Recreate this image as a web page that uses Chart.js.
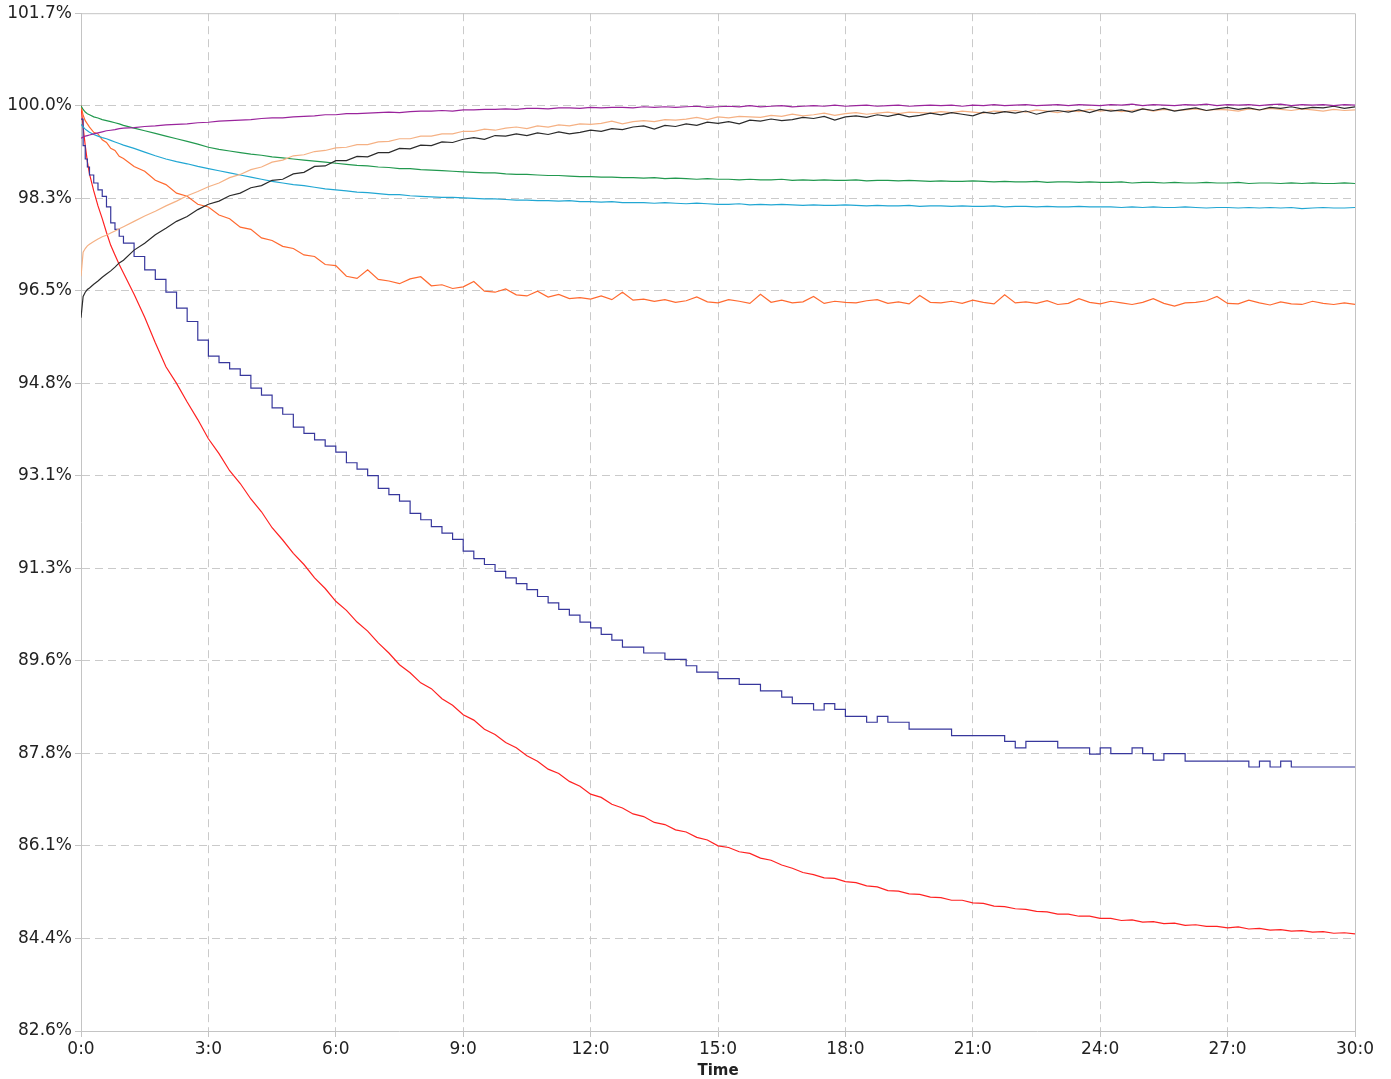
<!DOCTYPE html>
<html>
<head>
<meta charset="UTF-8">
<title>Retention</title>
<script src="https://cdn.jsdelivr.net/npm/chart.js@4.4.1/dist/chart.umd.min.js"></script>
<style>
	body { margin: 0; background: #fff; }
	#wrap { width: 1391px; height: 1079px; }
</style>
<script>
	// minutes
	const times = [
		0, 0.05, 0.1, 0.15, 0.2, 0.3, 0.4, 0.5, 0.6, 0.7, 0.8, 0.9, 1,
		1.25, 1.5, 1.75, 2,  2.25, 2.5, 2.75, 3,  3.25, 3.5, 3.75, 4,  4.25, 4.5, 4.75, 5,
		5.25, 5.5, 5.75, 6,  6.25, 6.5, 6.75, 7,  7.25, 7.5, 7.75, 8,  8.25, 8.5, 8.75, 9,
		9.25, 9.5, 9.75, 10,  10.25, 10.5, 10.75, 11,  11.25, 11.5, 11.75, 12,  12.25, 12.5, 12.75, 13,
		13.25, 13.5, 13.75, 14,  14.25, 14.5, 14.75, 15,  15.25, 15.5, 15.75, 16,  16.25, 16.5, 16.75, 17,
		17.25, 17.5, 17.75, 18,  18.25, 18.5, 18.75, 19,  19.25, 19.5, 19.75, 20,  20.25, 20.5, 20.75, 21,
		21.25, 21.5, 21.75, 22,  22.25, 22.5, 22.75, 23,  23.25, 23.5, 23.75, 24,  24.25, 24.5, 24.75, 25,
		25.25, 25.5, 25.75, 26,  26.25, 26.5, 26.75, 27,  27.25, 27.5, 27.75, 28,  28.25, 28.5, 28.75, 29,
		29.25, 29.5, 29.75, 30
	];

	const purple = [
		99.39, 99.41, 99.43, 99.44, 99.45, 99.47, 99.49, 99.51, 99.53, 99.54, 99.55, 99.57, 99.58,
		99.59, 99.61, 99.62, 99.64,  99.65, 99.66, 99.68, 99.69,  99.71, 99.72, 99.73, 99.74,  99.76, 99.77, 99.77, 99.79,
		99.8, 99.81, 99.83, 99.83,  99.85, 99.85, 99.86, 99.87,  99.88, 99.87, 99.89, 99.9,  99.9, 99.91, 99.9, 99.92,
		99.92, 99.93, 99.93, 99.94,  99.93, 99.95, 99.95, 99.94,  99.96, 99.96, 99.95, 99.97,  99.96, 99.97, 99.97, 99.96,
		99.98, 99.97, 99.98, 99.97,  99.98, 99.99, 99.97, 99.98,  99.99, 99.98, 100.0, 99.98,  99.99, 100.0, 99.98, 99.99,
		100.0, 99.99, 100.01, 99.99,  100.0, 100.01, 99.99, 100.0,  100.01, 99.99, 100.0, 100.01,  100.0, 100.01, 99.99, 100.01,
		100.0, 100.02, 100.0, 100.01,  100.02, 100.0, 100.01, 100.02,  100.0, 100.02, 100.01, 100.0,  100.02, 100.01, 100.03, 100.0,
		100.02, 100.01, 100.0, 100.02,  100.01, 100.03, 100.0, 100.02,  100.01, 100.02, 100.0, 100.02,  100.03, 100.0, 100.02, 100.01,
		100.02, 100.0, 100.02, 100.01
	];

	const black = [
		96.02, 96.42, 96.5, 96.55, 96.58, 96.65, 96.71, 96.78, 96.84, 96.9, 96.97, 97.05, 97.1,
		97.29, 97.42, 97.58, 97.7,  97.83, 97.92, 98.05, 98.15,  98.21, 98.31, 98.36, 98.46,  98.5, 98.6, 98.62, 98.72,
		98.75, 98.86, 98.87, 98.97,  98.97, 99.05, 99.04, 99.12,  99.12, 99.2, 99.19, 99.26,  99.25, 99.32, 99.31, 99.37,
		99.4, 99.37, 99.44, 99.43,  99.47, 99.44, 99.49, 99.46,  99.51, 99.47, 99.5, 99.54,  99.52, 99.57, 99.55, 99.6,
		99.62, 99.56, 99.63, 99.61,  99.66, 99.63, 99.69, 99.67,  99.7, 99.66, 99.73, 99.71,  99.75, 99.72, 99.74, 99.78,
		99.76, 99.8, 99.73, 99.79,  99.81, 99.78, 99.83, 99.8,  99.84, 99.79, 99.82, 99.86,  99.83, 99.87, 99.84, 99.81,
		99.88, 99.85, 99.89, 99.86,  99.9, 99.84, 99.89, 99.91,  99.88, 99.92, 99.87, 99.93,  99.9, 99.92, 99.88, 99.94,
		99.91, 99.95, 99.9, 99.93,  99.96, 99.91, 99.94, 99.97,  99.93, 99.96, 99.92, 99.97,  99.95, 99.98, 99.94, 99.97,
		99.96, 99.99, 99.95, 99.98
	];

	const peach = [
		96.8, 97.25, 97.32, 97.37, 97.4, 97.45, 97.5, 97.54, 97.57, 97.61, 97.65, 97.69, 97.73,
		97.83, 97.93, 98.02, 98.12,  98.21, 98.31, 98.39, 98.48,  98.55, 98.65, 98.71, 98.8,  98.85, 98.94, 98.98, 99.06,
		99.08, 99.14, 99.16, 99.21,  99.22, 99.27, 99.27, 99.32,  99.33, 99.38, 99.38, 99.43,  99.43, 99.47, 99.47, 99.52,
		99.52, 99.56, 99.54, 99.58,  99.6, 99.57, 99.62, 99.6,  99.64, 99.62, 99.66, 99.65,  99.67, 99.71, 99.66, 99.7,
		99.72, 99.7, 99.74, 99.73,  99.75, 99.78, 99.74, 99.79,  99.77, 99.8, 99.79, 99.78,  99.82, 99.8, 99.84, 99.81,
		99.83, 99.86, 99.82, 99.85,  99.87, 99.84, 99.86, 99.88,  99.85, 99.88, 99.87, 99.86,  99.89, 99.87, 99.9, 99.88,
		99.86, 99.9, 99.89, 99.91,  99.88, 99.92, 99.9, 99.87,  99.91, 99.89, 99.93, 99.9,  99.92, 99.89, 99.91, 99.94,
		99.9, 99.93, 99.91, 99.92,  99.94, 99.91, 99.93, 99.92,  99.9, 99.94, 99.92, 99.95,  99.93, 99.91, 99.94, 99.92,
		99.9, 99.93, 99.91, 99.92
	];

	const green = [
		100.0, 99.93, 99.88, 99.85, 99.83, 99.79, 99.77, 99.74, 99.72, 99.7, 99.68, 99.66, 99.63,
		99.58, 99.53, 99.48, 99.43,  99.38, 99.33, 99.28, 99.22,  99.18, 99.15, 99.12, 99.09,  99.07, 99.04, 99.02, 99.0,
		98.98, 98.96, 98.94, 98.92,  98.9, 98.88, 98.87, 98.85,  98.84, 98.82, 98.82, 98.8,  98.79, 98.78, 98.77, 98.76,
		98.75, 98.74, 98.74, 98.72,  98.71, 98.71, 98.7, 98.69,  98.69, 98.68, 98.67, 98.67,  98.66, 98.66, 98.65, 98.65,
		98.64, 98.65, 98.63, 98.64,  98.63, 98.62, 98.63, 98.62,  98.62, 98.61, 98.62, 98.61,  98.61, 98.62, 98.6, 98.61,
		98.6, 98.61, 98.6, 98.6,  98.61, 98.59, 98.6, 98.6,  98.59, 98.6, 98.59, 98.58,  98.59, 98.58, 98.58, 98.59,
		98.58, 98.57, 98.58, 98.57,  98.57, 98.58, 98.56, 98.57,  98.57, 98.56, 98.57, 98.56,  98.56, 98.57, 98.55, 98.56,
		98.56, 98.55, 98.56, 98.55,  98.55, 98.56, 98.55, 98.55,  98.56, 98.54, 98.55, 98.55,  98.54, 98.55, 98.54, 98.55,
		98.54, 98.54, 98.55, 98.54
	];

	const cyan = [
		99.65, 99.6, 99.56, 99.53, 99.5, 99.46, 99.43, 99.4, 99.38, 99.35, 99.32, 99.29, 99.26,
		99.2, 99.13, 99.06, 99.0,  98.95, 98.91, 98.86, 98.82,  98.78, 98.74, 98.7, 98.66,  98.62, 98.58, 98.55, 98.52,
		98.5, 98.47, 98.44, 98.42,  98.4, 98.38, 98.37, 98.35,  98.33, 98.33, 98.31, 98.3,  98.29, 98.28, 98.28, 98.27,
		98.26, 98.25, 98.25, 98.24,  98.23, 98.23, 98.22, 98.22,  98.21, 98.22, 98.2, 98.2,  98.19, 98.2, 98.18, 98.18,
		98.18, 98.17, 98.18, 98.17,  98.16, 98.17, 98.16, 98.15,  98.15, 98.16, 98.14, 98.15,  98.14, 98.15, 98.14, 98.13,
		98.14, 98.13, 98.13, 98.14,  98.13, 98.12, 98.13, 98.12,  98.12, 98.13, 98.11, 98.12,  98.12, 98.11, 98.12, 98.11,
		98.11, 98.12, 98.1, 98.11,  98.11, 98.1, 98.11, 98.1,  98.1, 98.11, 98.1, 98.1,  98.1, 98.09, 98.1, 98.09,
		98.1, 98.09, 98.09, 98.1,  98.09, 98.08, 98.09, 98.09,  98.08, 98.09, 98.08, 98.09,  98.08, 98.09, 98.07, 98.08,
		98.09, 98.08, 98.08, 98.09
	];

	const orange = [
		100.0, 99.82, 99.72, 99.66, 99.6, 99.5, 99.47, 99.36, 99.31, 99.2, 99.16, 99.05, 99.01,
		98.86, 98.77, 98.6, 98.52,  98.36, 98.3, 98.15, 98.1,  97.95, 97.88, 97.72, 97.68,  97.52, 97.47, 97.36, 97.32,
		97.2, 97.17, 97.02, 97.0,  96.8, 96.76, 96.92, 96.74,  96.71, 96.66, 96.75, 96.79,  96.62, 96.64, 96.57, 96.6,
		96.7, 96.52, 96.5, 96.56,  96.45, 96.43, 96.52, 96.41,  96.46, 96.38, 96.4, 96.37,  96.43, 96.36, 96.5, 96.35,
		96.37, 96.33, 96.36, 96.31,  96.34, 96.41, 96.32, 96.3,  96.36, 96.33, 96.29, 96.46,  96.31, 96.35, 96.3, 96.32,
		96.42, 96.29, 96.33, 96.31,  96.3, 96.34, 96.36, 96.29,  96.32, 96.28, 96.44, 96.31,  96.3, 96.33, 96.29, 96.35,
		96.31, 96.28, 96.45, 96.3,  96.32, 96.29, 96.34, 96.27,  96.29, 96.38, 96.31, 96.28,  96.33, 96.3, 96.27, 96.31,
		96.38, 96.29, 96.24, 96.3,  96.31, 96.34, 96.42, 96.29,  96.28, 96.35, 96.3, 96.26,  96.32, 96.28, 96.27, 96.33,
		96.29, 96.27, 96.3, 96.27
	];

	const navy = [
		99.75, 99.25, 99.0, 98.85, 98.7, 98.55, 98.42, 98.3, 98.1, 97.8, 97.68, 97.55, 97.42,
		97.17, 96.92, 96.74, 96.5,  96.2, 95.95, 95.6, 95.3,  95.18, 95.06, 94.94, 94.7,  94.57, 94.33, 94.21, 93.97,
		93.85, 93.73, 93.61, 93.5,  93.3, 93.18, 93.06, 92.82,  92.7, 92.58, 92.35, 92.23,  92.1, 91.98, 91.86, 91.64,
		91.5, 91.39, 91.26, 91.14,  91.03, 90.92, 90.79, 90.67,  90.55, 90.44, 90.31, 90.2,  90.08, 89.97, 89.84, 89.84,
		89.73, 89.73, 89.61, 89.61,  89.49, 89.37, 89.37, 89.25,  89.25, 89.14, 89.14, 89.02,  89.02, 88.9, 88.78, 88.78,
		88.66, 88.78, 88.67, 88.54,  88.54, 88.43, 88.54, 88.43,  88.43, 88.3, 88.3, 88.3,  88.3, 88.18, 88.18, 88.18,
		88.18, 88.18, 88.07, 87.95,  88.07, 88.07, 88.07, 87.95,  87.95, 87.95, 87.83, 87.95,  87.84, 87.84, 87.95, 87.84,
		87.72, 87.84, 87.84, 87.7,  87.7, 87.7, 87.7, 87.7,  87.7, 87.59, 87.7, 87.59,  87.7, 87.59, 87.59, 87.59,
		87.59, 87.59, 87.59, 87.59
	];

	const red = [
		100.0, 99.6, 99.25, 98.95, 98.72, 98.4, 98.12, 97.88, 97.62, 97.38, 97.2, 97.02, 96.86,
		96.46, 96.03, 95.55, 95.1,  94.79, 94.44, 94.11, 93.75,  93.47, 93.15, 92.91, 92.62,  92.38, 92.08, 91.85, 91.6,
		91.39, 91.14, 90.94, 90.7,  90.53, 90.31, 90.14, 89.92,  89.73, 89.51, 89.36, 89.17,  89.06, 88.87, 88.75, 88.57,
		88.47, 88.3, 88.2, 88.05,  87.95, 87.8, 87.7, 87.55,  87.47, 87.32, 87.23, 87.08,  87.02, 86.89, 86.82, 86.71,
		86.66, 86.55, 86.51, 86.41,  86.37, 86.27, 86.22, 86.11,  86.08, 86.0, 85.97, 85.88,  85.84, 85.75, 85.69, 85.61,
		85.57, 85.51, 85.5, 85.44,  85.42, 85.36, 85.34, 85.27,  85.26, 85.21, 85.2, 85.15,  85.14, 85.09, 85.09, 85.04,
		85.03, 84.98, 84.97, 84.93,  84.92, 84.88, 84.87, 84.83,  84.83, 84.79, 84.79, 84.75,  84.75, 84.71, 84.72, 84.68,
		84.69, 84.65, 84.66, 84.62,  84.63, 84.6, 84.6, 84.57,  84.59, 84.55, 84.56, 84.53,  84.54, 84.51, 84.52, 84.49,
		84.5, 84.47, 84.48, 84.46
	];

	const yMin = 82.636, yMax = 101.736, yStep = 1.7364;
	const xTickStep = 3;

	const gridColor = '#cacaca';
	const axisColor = '#c4c4c4';

	// solid frame on the top and right edges
	const framePlugin = {
		id: 'frame',
		beforeDatasetsDraw(chart) {
			const a = chart.chartArea, c = chart.ctx;
			c.save();
			c.strokeStyle = axisColor;
			c.lineWidth = 1;
			c.beginPath();
			c.moveTo(a.left, a.top + 0.5);
			c.lineTo(a.right + 0.5, a.top + 0.5);
			c.lineTo(a.right + 0.5, a.bottom);
			c.stroke();
			c.restore();
		}
	};

	function line(label, color, values, stepped) {
		return {
			label: label,
			data: values,
			borderColor: color,
			backgroundColor: color,
			borderWidth: 1.2,
			pointRadius: 0,
			tension: 0,
			stepped: stepped || false
		};
	}

	window.addEventListener('load', function(){
		Chart.defaults.font.family = '"DejaVu Sans", Verdana, sans-serif';
		new Chart('myChart', {
			type: 'line',
			data: {
				labels: times,
				datasets: [
					line('S1', '#9a249c', purple),
					line('S2', '#2b2b2b', black),
					line('S3', '#f5b184', peach),
					line('S4', '#22994f', green),
					line('S5', '#22a7d3', cyan),
					line('S6', '#ff6a30', orange),
					line('S7', '#37379c', navy, true),
					line('S8', '#ff2222', red)
				]
			},
			options: {
				responsive: true,
				maintainAspectRatio: false,
				animation: false,
				layout: { padding: { left: 0, right: 36, top: 13, bottom: 0 } },
				plugins: { legend: { display: false }, tooltip: { enabled: false } },
				scales: {
					x: {
						type: 'linear',
						min: 0, max: 30,
						afterFit: function(s){ s.height = 48; },
						border: { color: axisColor, dash: [8, 5] },
						grid: {
							color: function(c){ return (c.index === 0 || c.tick.value === 30) ? 'rgba(0,0,0,0)' : gridColor; },
							tickColor: axisColor,
							tickLength: 6
						},
						ticks: {
							stepSize: xTickStep,
							color: '#222',
							font: { size: 17 },
							padding: 2,
							maxRotation: 0,
							callback: function(v){ return v + ':0'; }
						},
						title: {
							display: true,
							text: 'Time',
							color: '#222',
							font: { size: 15, weight: 'bold', lineHeight: 1 },
							padding: 0
						}
					},
					y: {
						min: yMin, max: yMax,
						afterFit: function(s){ s.width = 81; },
						border: { color: axisColor, dash: [8, 5] },
						grid: {
							color: function(c){ return (c.index === 0 || c.tick.value >= yMax - 0.01) ? 'rgba(0,0,0,0)' : gridColor; },
							tickColor: axisColor,
							tickLength: 6
						},
						ticks: {
							stepSize: yStep,
							color: '#222',
							font: { size: 17 },
							padding: 3,
							callback: function(v){ return v.toFixed(1) + '%'; }
						}
					}
				}
			},
			plugins: [framePlugin]
		});
	});
</script>
</head>
<body>
	<div id="wrap"><canvas id="myChart"></canvas></div>
</body>
</html>
